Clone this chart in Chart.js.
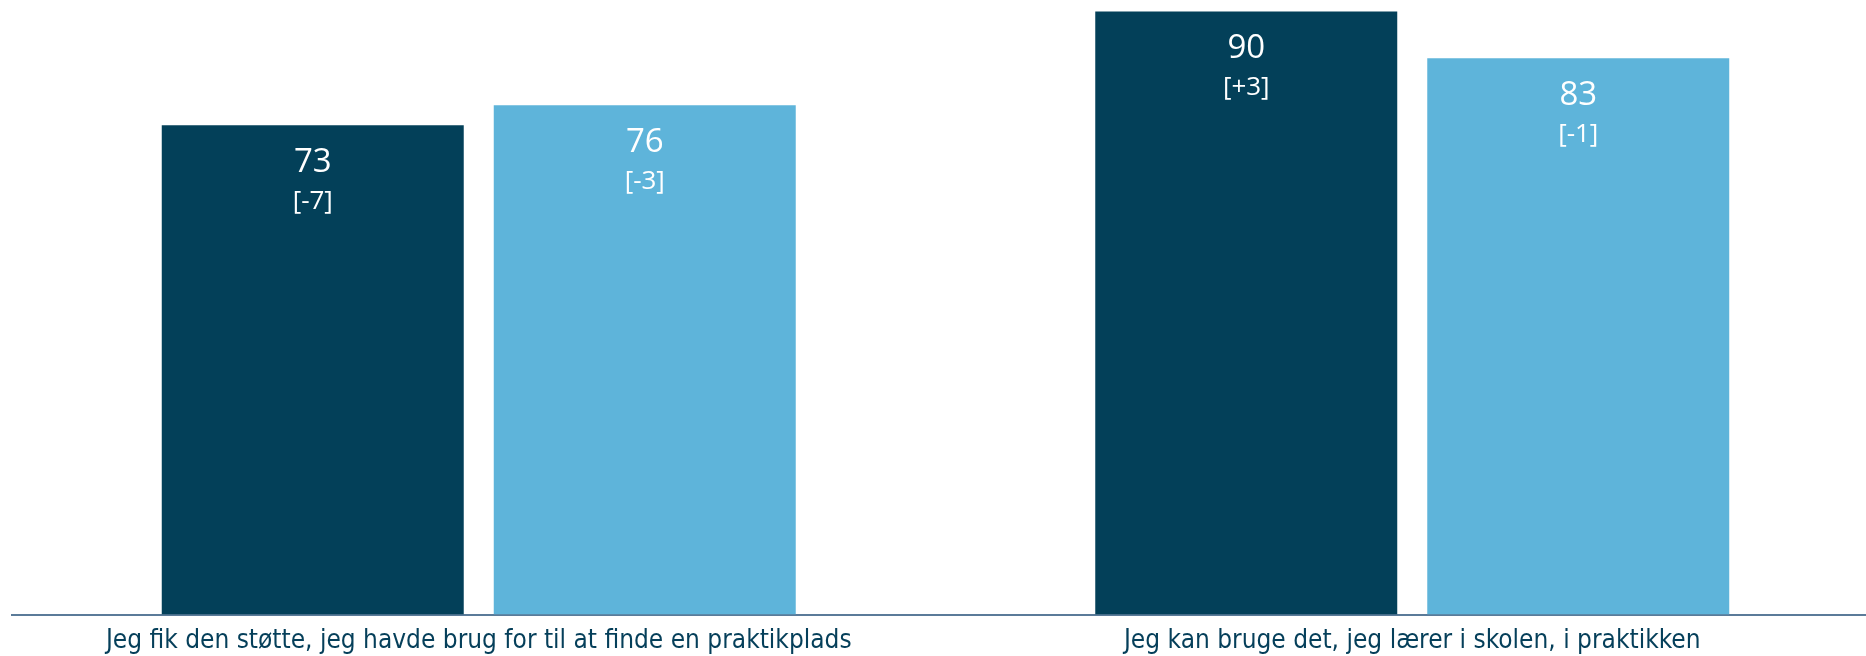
<!DOCTYPE html>
<html>
<head>
<meta charset="utf-8">
<script src="https://cdn.jsdelivr.net/npm/chart.js@4.4.1/dist/chart.umd.min.js"></script>
<style>
  html, body { margin: 0; padding: 0; background: #fff; overflow: hidden; }
  #wrap { width: 1879px; height: 656px; }
</style>
</head>
<body>
<div id="wrap"><canvas id="myBarChart"></canvas></div>
<script>
// categories
const questionLabels = [
  "Jeg fik den støtte, jeg havde brug for til at finde en praktikplads",
  "Jeg kan bruge det, jeg lærer i skolen, i praktikken",
];

// series values (two series per question)
const darkValues = [73, 90];
const lightValues = [76, 83];

// change labels shown under each value
const darkChanges = ["[-7]", "[+3]"];
const lightChanges = ["[-3]", "[-1]"];

var barChart = document.getElementById("myBarChart");

// draws the value and the change in brackets inside the top of each bar
const insideLabels = {
  id: "insideLabels",
  afterDatasetsDraw(chart) {
    const ctx = chart.ctx;
    const changes = [darkChanges, lightChanges];
    ctx.save();
    ctx.fillStyle = "#ffffff";
    ctx.textAlign = "center";
    ctx.textBaseline = "middle";
    chart.data.datasets.forEach((ds, i) => {
      const meta = chart.getDatasetMeta(i);
      meta.data.forEach((bar, j) => {
        ctx.font = "33px 'Open Sans'";
        ctx.fillText(String(ds.data[j]), bar.x, bar.y + 37);
        ctx.font = "26px 'Open Sans'";
        ctx.fillText(changes[i][j], bar.x, bar.y + 76);
      });
    });
    ctx.restore();
  },
};

const barData = {
  labels: questionLabels,
  datasets: [
    {
      data: darkValues,
      backgroundColor: "#034059",
      barPercentage: 0.9096,
      categoryPercentage: 0.7113,
    },
    {
      data: lightValues,
      backgroundColor: "#5eb4da",
      barPercentage: 0.9096,
      categoryPercentage: 0.7113,
    },
  ],
};

const barConfig = {
  type: "bar",
  data: barData,
  options: {
    responsive: true,
    maintainAspectRatio: false,
    animation: false,
    layout: {
      padding: { left: 12, right: 0, top: 0, bottom: 0 },
    },
    plugins: {
      legend: { display: false },
      tooltip: { enabled: false },
    },
    scales: {
      y: {
        display: false,
        min: 0,
        max: 91.7,
      },
      x: {
        grid: { display: false },
        border: { display: true, color: "#5b7b99", width: 2 },
        ticks: {
          color: "#053f5a",
          padding: 3,
          maxRotation: 0,
          autoSkip: false,
          font: { family: "'DejaVu Sans Condensed', 'DejaVu Sans'", size: 26 },
        },
        afterFit(scale) {
          scale.height = 41.5;
        },
      },
    },
  },
  plugins: [insideLabels],
};

const myChart = new Chart(barChart, barConfig);
</script>
</body>
</html>
